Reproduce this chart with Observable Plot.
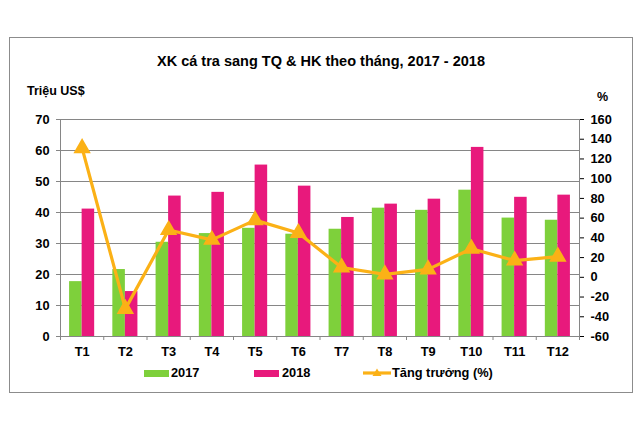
<!DOCTYPE html>
<html>
<head>
<meta charset="utf-8">
<script src="https://cdn.jsdelivr.net/npm/d3@7"></script>
<script src="https://cdn.jsdelivr.net/npm/@observablehq/plot@0.6"></script>
<style>
  html, body { margin: 0; padding: 0; background: #fff; }
  body { width: 642px; height: 428px; position: relative; overflow: hidden;
         font-family: "Liberation Sans", Arial, sans-serif; font-weight: bold; color: #000; }
  #frame { position: absolute; left: 9px; top: 37px; width: 622px; height: 354px; border: 1px solid #8c8c8c; box-sizing: content-box; }
  #chart { position: absolute; left: 0; top: 0; }
  .abs { position: absolute; white-space: nowrap; }
  #title { left: 0; width: 642px; text-align: center; top: 53px; font-size: 14.5px; }
  #ylab { left: 27px; top: 84px; font-size: 12.5px; }
  #ylab2 { left: 597px; top: 90px; font-size: 12.5px; }
  .leg { position: absolute; top: 366px; font-size: 12.8px; line-height: 14px; }
  .sw { position: absolute; top: 370px; height: 7px; }
</style>
</head>
<body>
<div id="frame"></div>
<div id="chart"></div>
<div id="title" class="abs">XK cá tra sang TQ &amp; HK theo tháng, 2017 - 2018</div>
<div id="ylab" class="abs">Triệu US$</div>
<div id="ylab2" class="abs">%</div>
<div id="legend"></div>
<script>
const months = ["T1","T2","T3","T4","T5","T6","T7","T8","T9","T10","T11","T12"];
const v2017 = [17.7, 21.6, 30.4, 33.2, 34.9, 33.0, 34.6, 41.4, 40.7, 47.2, 38.2, 37.5];
const v2018 = [41.1, 14.5, 45.3, 46.5, 55.3, 48.5, 38.4, 42.7, 44.3, 61.0, 44.9, 45.6];
const growth = [131, -32, 48, 38, 58, 45, 10, 3, 8, 29, 17, 21];
const leftTicks = [0, 10, 20, 30, 40, 50, 60, 70];
const rightTicks = [-60, -40, -20, 0, 20, 40, 60, 80, 100, 120, 140, 160];
const seriesNames = ["2017", "2018", "Tăng trưởng (%)"];
const colors = ["#7ed03b", "#e8197c", "#fbb116"];

// right axis maps linearly onto the left domain
const L = [0, 70], R = [-60, 160];
const toLeft = g => L[0] + (g - R[0]) * (L[1] - L[0]) / (R[1] - R[0]);
const fromLeft = v => Math.round(R[0] + (v - L[0]) * (R[1] - R[0]) / (L[1] - L[0]));

const rows = months.map((m, i) => ({m, i, a: v2017[i], b: v2018[i], g: growth[i]}));
const barW = 0.29;
const font = {fontFamily: "'Liberation Sans', Arial, sans-serif", fontWeight: "bold", fontSize: 12.8, fill: "#000"};

const chart = Plot.plot({
  width: 642, height: 428,
  marginLeft: 60, marginRight: 63, marginTop: 119, marginBottom: 92,
  style: {fontFamily: "'Liberation Sans', Arial, sans-serif", fontSize: "12.8px", fontWeight: "bold", color: "#000", background: "transparent"},
  x: {type: "linear", domain: [0, 12]},
  y: {domain: L},
  marks: [
    Plot.ruleY(leftTicks.filter(d => d > 0), {stroke: "#868686", strokeWidth: 1, strokeOpacity: 1}),
    Plot.rect(rows, {x1: d => d.i + 0.5 - barW, x2: d => d.i + 0.5, y1: 0, y2: "a", fill: colors[0]}),
    Plot.rect(rows, {x1: d => d.i + 0.5, x2: d => d.i + 0.5 + barW, y1: 0, y2: "b", fill: colors[1]}),
    Plot.ruleY([0], {stroke: "#868686"}),
    Plot.ruleX([0, 12], {stroke: "#868686"}),
    Plot.axisY({anchor: "left", ticks: leftTicks, tickSize: 4, tickPadding: 7, stroke: "#868686", label: null, ...font}),
    Plot.axisY({anchor: "right", ticks: rightTicks.map(toLeft), tickFormat: fromLeft, tickSize: 4, tickPadding: 7, textAnchor: "start", label: null, ...font}),
    Plot.axisX({ticks: d3.range(0, 13), tickFormat: () => "", tickSize: 4, stroke: "#868686", label: null}),
    Plot.axisX({ticks: months.map((m, i) => i + 0.5), tickFormat: v => months[Math.floor(v)], tickSize: 0, tickPadding: 10, label: null, ...font}),
    Plot.line(rows, {x: d => d.i + 0.5, y: d => toLeft(d.g), stroke: colors[2], strokeWidth: 3.2}),
    Plot.dot(rows, {x: d => d.i + 0.5, y: d => toLeft(d.g), symbol: "triangle", r: 5.5, fill: colors[2], stroke: colors[2]})
  ]
});
document.getElementById("chart").appendChild(chart);

// legend
const legend = document.getElementById("legend");
const legItems = [
  {sx: 144, tx: 171, type: "bar"},
  {sx: 254, tx: 282, type: "bar"},
  {sx: 363, tx: 392, type: "line"}
];
legItems.forEach((it, k) => {
  if (it.type === "bar") {
    const sw = document.createElement("div");
    sw.className = "sw";
    sw.style.left = it.sx + "px"; sw.style.width = "25px"; sw.style.background = colors[k];
    legend.appendChild(sw);
  } else {
    const ns = "http://www.w3.org/2000/svg";
    const svg = document.createElementNS(ns, "svg");
    svg.setAttribute("width", 28); svg.setAttribute("height", 14);
    svg.style.position = "absolute"; svg.style.left = it.sx + "px"; svg.style.top = "366px";
    const ln = document.createElementNS(ns, "line");
    ln.setAttribute("x1", 0); ln.setAttribute("x2", 28); ln.setAttribute("y1", 7); ln.setAttribute("y2", 7);
    ln.setAttribute("stroke", colors[2]); ln.setAttribute("stroke-width", 3.2);
    svg.appendChild(ln);
    const tri = document.createElementNS(ns, "path");
    tri.setAttribute("d", "M14,2.5 L18.5,10 L9.5,10 Z");
    tri.setAttribute("fill", colors[2]);
    svg.appendChild(tri);
    legend.appendChild(svg);
  }
  const t = document.createElement("div");
  t.className = "leg";
  t.style.left = it.tx + "px";
  t.textContent = seriesNames[k];
  legend.appendChild(t);
});
</script>
</body>
</html>
